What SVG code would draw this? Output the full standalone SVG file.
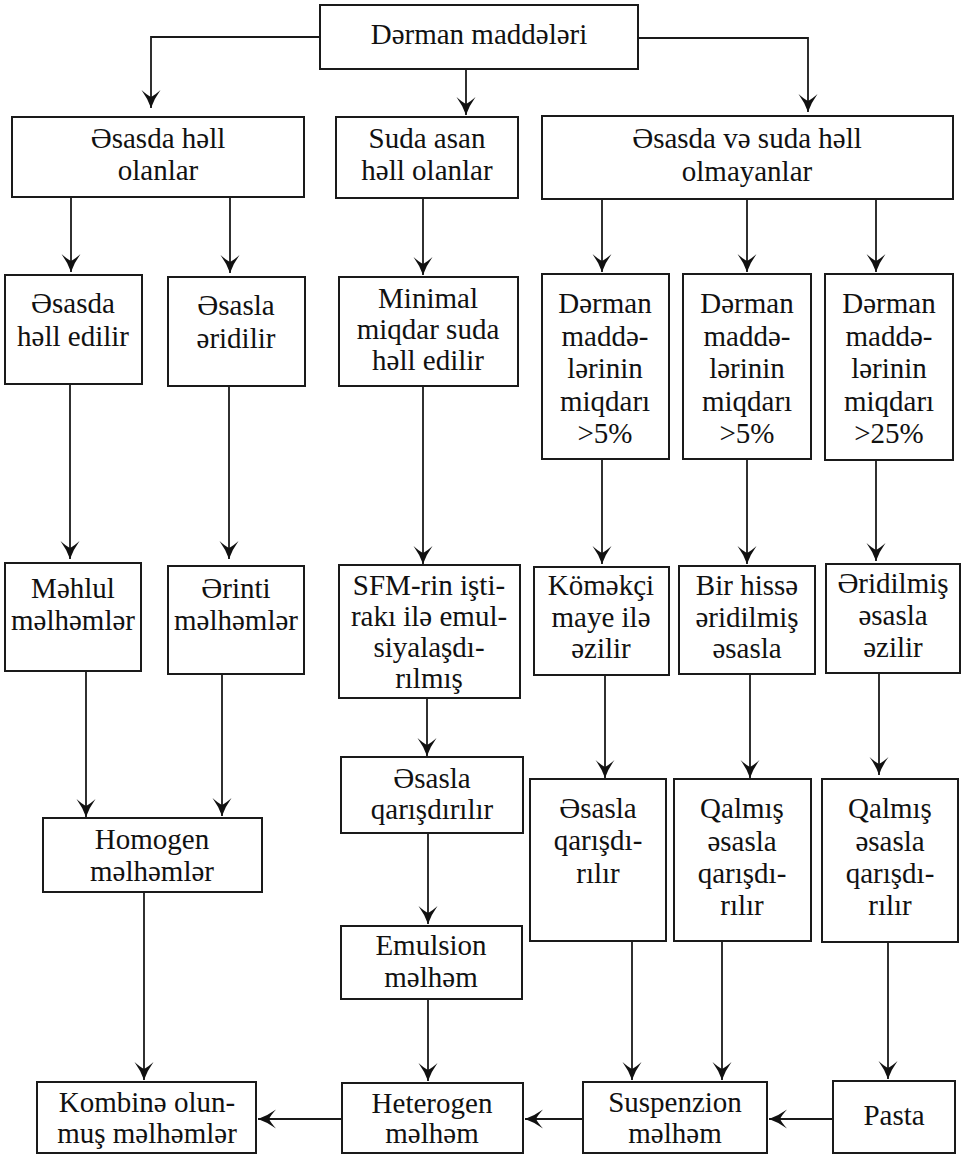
<svg xmlns="http://www.w3.org/2000/svg" width="962" height="1156" viewBox="0 0 962 1156">
<defs>
<style>
.box{fill:none;stroke:#1a1a1a;stroke-width:2}
.t{font-size:29px;fill:#111;text-anchor:middle}
.c{fill:none;stroke:#1a1a1a;stroke-width:1.8;marker-end:url(#ah)}
</style>
<marker id="ah" markerUnits="userSpaceOnUse" markerWidth="22" markerHeight="22" viewBox="-20 -11 22 22" refX="0" refY="0" orient="auto">
<path d="M0,0 Q-9,-3 -18,-9.5 Q-13,-4 -11,0 Q-13,4 -18,9.5 Q-9,3 0,0 Z" fill="#111"/>
</marker>
</defs>
<rect width="962" height="1156" fill="#fff"/>

<g id="connectors">
<path class="c" d="M320,37 H151 V108"/>
<path class="c" d="M466,69 V115"/>
<path class="c" d="M638,38 H808 V112"/>
<path class="c" d="M71,197 V272"/>
<path class="c" d="M230,197 V273"/>
<path class="c" d="M423,198 V275"/>
<path class="c" d="M602,199 V272"/>
<path class="c" d="M747,199 V272"/>
<path class="c" d="M876,199 V272"/>
<path class="c" d="M70,384 V559"/>
<path class="c" d="M229,386 V559"/>
<path class="c" d="M423,386 V564"/>
<path class="c" d="M602,459 V564"/>
<path class="c" d="M747,459 V564"/>
<path class="c" d="M876,460 V561"/>
<path class="c" d="M86,671 V817"/>
<path class="c" d="M222,674 V816"/>
<path class="c" d="M427,698 V756"/>
<path class="c" d="M605,675 V778"/>
<path class="c" d="M750,674 V778"/>
<path class="c" d="M879,673 V775"/>
<path class="c" d="M428,833 V924"/>
<path class="c" d="M428,999 V1081"/>
<path class="c" d="M144,892 V1080"/>
<path class="c" d="M632,941 V1080"/>
<path class="c" d="M722,941 V1080"/>
<path class="c" d="M888,942 V1079"/>
<path class="c" d="M833,1119 H769"/>
<path class="c" d="M583,1119 H525"/>
<path class="c" d="M342,1119 H258"/>
</g>

<g font-family="'Liberation Serif', 'Times New Roman', 'DejaVu Serif', serif">
<g id="n-root"><rect class="box" x="320" y="5" width="318" height="64"/><text class="t" x="479" y="44">Dərman maddələri</text></g>

<g id="n-esasda-hell-olanlar"><rect class="box" x="12" y="117" width="292" height="80"/><text class="t" x="158" y="148">Əsasda həll<tspan x="158" y="180">olanlar</tspan></text></g>
<g id="n-suda-asan"><rect class="box" x="336" y="117" width="182" height="81"/><text class="t" x="427" y="148">Suda asan<tspan x="427" y="180">həll olanlar</tspan></text></g>
<g id="n-hell-olmayanlar"><rect class="box" x="542" y="116" width="411" height="83"/><text class="t" x="747" y="148">Əsasda və suda həll<tspan x="747" y="181">olmayanlar</tspan></text></g>

<g id="n-esasda-hell-edilir"><rect class="box" x="5" y="275" width="137" height="109"/><text class="t" x="73" y="313">Əsasda<tspan x="73" y="346">həll edilir</tspan></text></g>
<g id="n-esasla-eridilir"><rect class="box" x="168" y="277" width="137" height="109"/><text class="t" x="236" y="315">Əsasla<tspan x="236" y="348">əridilir</tspan></text></g>
<g id="n-minimal"><rect class="box" x="339" y="277" width="179" height="109"/><text class="t" x="428" y="308">Minimal<tspan x="428" y="339">miqdar suda</tspan><tspan x="428" y="370">həll edilir</tspan></text></g>
<g id="n-miqdar1"><rect class="box" x="542" y="274" width="127" height="185"/><text class="t" x="605" y="313">Dərman<tspan x="605" y="346">maddə-</tspan><tspan x="605" y="378">lərinin</tspan><tspan x="605" y="411">miqdarı</tspan><tspan x="605" y="443">&gt;5%</tspan></text></g>
<g id="n-miqdar2"><rect class="box" x="683" y="274" width="128" height="185"/><text class="t" x="747" y="313">Dərman<tspan x="747" y="346">maddə-</tspan><tspan x="747" y="378">lərinin</tspan><tspan x="747" y="411">miqdarı</tspan><tspan x="747" y="443">&gt;5%</tspan></text></g>
<g id="n-miqdar3"><rect class="box" x="825" y="274" width="128" height="186"/><text class="t" x="889" y="313">Dərman<tspan x="889" y="346">maddə-</tspan><tspan x="889" y="378">lərinin</tspan><tspan x="889" y="411">miqdarı</tspan><tspan x="889" y="443">&gt;25%</tspan></text></g>

<g id="n-mehlul"><rect class="box" x="5" y="563" width="136" height="108"/><text class="t" x="73" y="598">Məhlul<tspan x="73" y="630">məlhəmlər</tspan></text></g>
<g id="n-erinti"><rect class="box" x="168" y="566" width="136" height="108"/><text class="t" x="236" y="598">Ərinti<tspan x="236" y="630">məlhəmlər</tspan></text></g>
<g id="n-sfm"><rect class="box" x="339" y="565" width="181" height="133"/><text class="t" x="429" y="595">SFM-rin işti-<tspan x="429" y="626">rakı ilə emul-</tspan><tspan x="429" y="657">siyalaşdı-</tspan><tspan x="429" y="688">rılmış</tspan></text></g>
<g id="n-komekci"><rect class="box" x="534" y="567" width="135" height="108"/><text class="t" x="601" y="595">Köməkçi<tspan x="601" y="627">maye ilə</tspan><tspan x="601" y="658">əzilir</tspan></text></g>
<g id="n-bir-hisse"><rect class="box" x="679" y="566" width="136" height="108"/><text class="t" x="747" y="595">Bir hissə<tspan x="747" y="627">əridilmiş</tspan><tspan x="747" y="658">əsasla</tspan></text></g>
<g id="n-eridilmis"><rect class="box" x="826" y="564" width="134" height="109"/><text class="t" x="893" y="593">Əridilmiş<tspan x="893" y="625">əsasla</tspan><tspan x="893" y="657">əzilir</tspan></text></g>

<g id="n-homogen"><rect class="box" x="43" y="818" width="219" height="74"/><text class="t" x="152" y="849">Homogen<tspan x="152" y="881">məlhəmlər</tspan></text></g>
<g id="n-esasla-qarisdirilir"><rect class="box" x="341" y="757" width="182" height="76"/><text class="t" x="432" y="788">Əsasla<tspan x="432" y="819">qarışdırılır</tspan></text></g>
<g id="n-emulsion"><rect class="box" x="341" y="926" width="181" height="73"/><text class="t" x="431" y="955">Emulsion<tspan x="431" y="987">məlhəm</tspan></text></g>
<g id="n-esasla-qarisdi"><rect class="box" x="530" y="779" width="136" height="162"/><text class="t" x="598" y="818">Əsasla<tspan x="598" y="850">qarışdı-</tspan><tspan x="598" y="883">rılır</tspan></text></g>
<g id="n-qalmis1"><rect class="box" x="674" y="779" width="137" height="162"/><text class="t" x="742" y="818">Qalmış<tspan x="742" y="851">əsasla</tspan><tspan x="742" y="883">qarışdı-</tspan><tspan x="742" y="915">rılır</tspan></text></g>
<g id="n-qalmis2"><rect class="box" x="822" y="779" width="136" height="163"/><text class="t" x="890" y="818">Qalmış<tspan x="890" y="851">əsasla</tspan><tspan x="890" y="883">qarışdı-</tspan><tspan x="890" y="915">rılır</tspan></text></g>

<g id="n-kombine"><rect class="box" x="37" y="1082" width="219" height="71"/><text class="t" x="147" y="1112">Kombinə olun-<tspan x="147" y="1143">muş məlhəmlər</tspan></text></g>
<g id="n-heterogen"><rect class="box" x="342" y="1083" width="181" height="70"/><text class="t" x="432" y="1113">Heterogen<tspan x="432" y="1143">məlhəm</tspan></text></g>
<g id="n-suspenzion"><rect class="box" x="583" y="1082" width="184" height="71"/><text class="t" x="675" y="1112">Suspenzion<tspan x="675" y="1143">məlhəm</tspan></text></g>
<g id="n-pasta"><rect class="box" x="833" y="1081" width="122" height="72"/><text class="t" x="894" y="1125">Pasta</text></g>
</g>
</svg>
